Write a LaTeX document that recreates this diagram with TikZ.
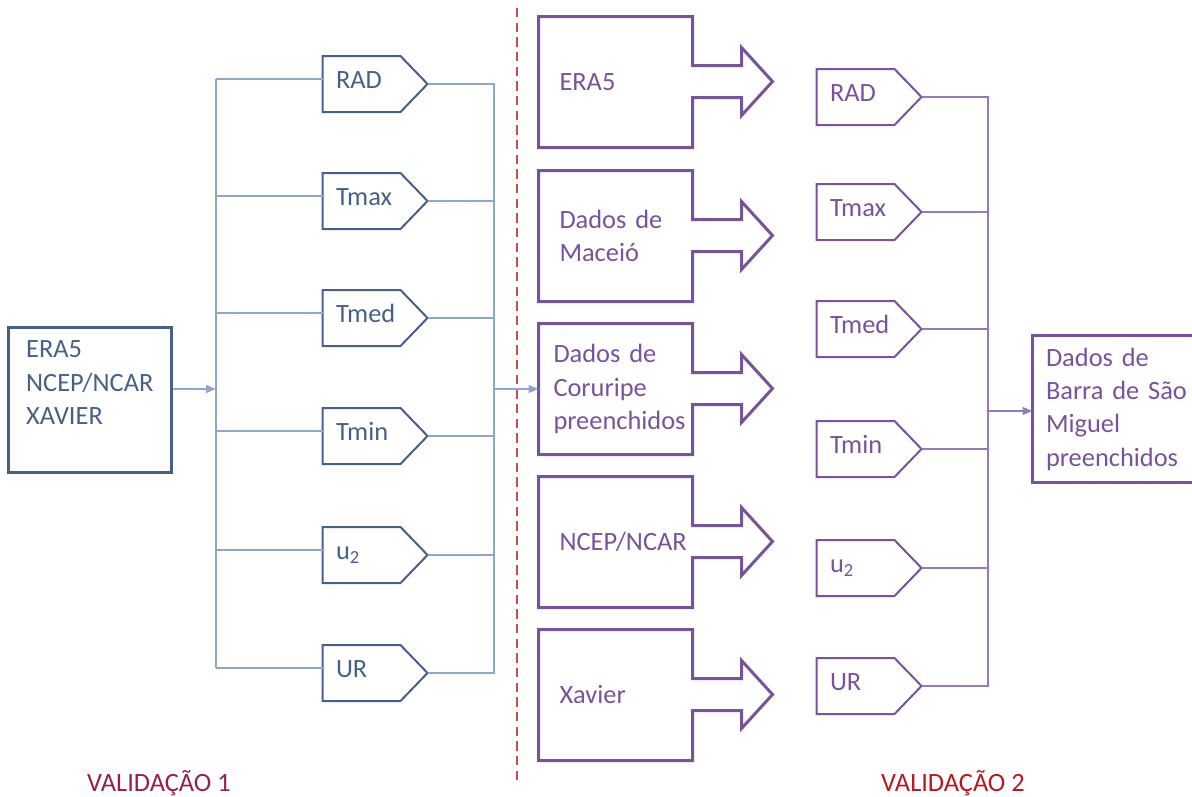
\documentclass[tikz,border=0pt]{standalone}
\usepackage{fontspec}
\setmainfont{Carlito}
\usetikzlibrary{arrows.meta,calc}

\definecolor{slate}{RGB}{70,96,136}
\definecolor{slateline}{RGB}{142,166,204}
\definecolor{plum}{RGB}{120,82,155}
\definecolor{plumline}{RGB}{152,122,184}
\definecolor{splitred}{RGB}{192,80,77}
\definecolor{valone}{RGB}{152,32,72}
\definecolor{valtwo}{RGB}{184,24,32}

\tikzset{every picture/.style={line width=0.75pt}}
\tikzset{
	srcbox/.style={draw=slate, line width=2.25pt, minimum width=122.25pt, minimum height=108.75pt, text width=95pt, align=left, text=slate},
	varbox/.style={minimum width=78pt, minimum height=41.25pt, text width=58.5pt, align=left, text height=12pt, text depth=6pt},
	blockarrow/.style={minimum width=114.75pt, minimum height=97.5pt, text width=84pt, align=left, text=plum},
	dstbox/.style={minimum width=136.5pt, minimum height=109.5pt, text width=117pt, align=left, text=plum},
	bluewire/.style={draw=slateline, line width=1pt},
	purplewire/.style={draw=plumline, line width=1pt},
	feed/.style={-{Triangle[length=7.5pt,width=6pt]}}
}

\begin{document}
\begin{tikzpicture}[x=0.75pt,y=0.75pt,yscale=-1,xscale=1,every node/.style={font=\fontsize{19.8}{25}\selectfont}]
	\useasboundingbox (0,0) rectangle (1192,796);
	\clip (0,0) rectangle (1192,796);

	%Shape: Rectangle [id:src] 
	\node[srcbox] (src) at (89.5,399.5) {ERA5\\NCEP/NCAR\\XAVIER\\~};

	%Shape: Pentagons, validation 1
	\node[varbox, text=slate] (lrad) at (375,84) {RAD};
	\node[varbox, text=slate] (ltmax) at (375,201) {Tmax};
	\node[varbox, text=slate] (ltmed) at (375,318) {Tmed};
	\node[varbox, text=slate] (ltmin) at (375,436) {Tmin};
	\node[varbox, text=slate] (lu) at (375,555) {u\textsubscript{2}};
	\node[varbox, text=slate] (lur) at (375,673) {UR};
	\draw[slate, line width=1.5pt] (lrad.north west) -- ([xshift=-20.25pt]lrad.north east) -- (lrad.east) -- ([xshift=-20.25pt]lrad.south east) -- (lrad.south west) -- cycle ;
	\draw[slate, line width=1.5pt] (ltmax.north west) -- ([xshift=-20.25pt]ltmax.north east) -- (ltmax.east) -- ([xshift=-20.25pt]ltmax.south east) -- (ltmax.south west) -- cycle ;
	\draw[slate, line width=1.5pt] (ltmed.north west) -- ([xshift=-20.25pt]ltmed.north east) -- (ltmed.east) -- ([xshift=-20.25pt]ltmed.south east) -- (ltmed.south west) -- cycle ;
	\draw[slate, line width=1.5pt] (ltmin.north west) -- ([xshift=-20.25pt]ltmin.north east) -- (ltmin.east) -- ([xshift=-20.25pt]ltmin.south east) -- (ltmin.south west) -- cycle ;
	\draw[slate, line width=1.5pt] (lu.north west) -- ([xshift=-20.25pt]lu.north east) -- (lu.east) -- ([xshift=-20.25pt]lu.south east) -- (lu.south west) -- cycle ;
	\draw[slate, line width=1.5pt] (lur.north west) -- ([xshift=-20.25pt]lur.north east) -- (lur.east) -- ([xshift=-20.25pt]lur.south east) -- (lur.south west) -- cycle ;

	%Straight Lines: split and join, validation 1
	\coordinate (lsplit) at (216,389);
	\coordinate (ljoin) at (494,389);
	\draw[bluewire, feed] (src.east |- lsplit) -- (lsplit);
	\draw[bluewire] ($(lsplit |- lrad.west)+(0,-5)$) -- ($(lsplit |- lur.west)+(0,-5)$);
	\draw[bluewire] ($(lsplit |- lrad.west)+(0,-5)$) -- ($(lrad.west)+(0,-5)$);
	\draw[bluewire] ($(lsplit |- ltmax.west)+(0,-5)$) -- ($(ltmax.west)+(0,-5)$);
	\draw[bluewire] ($(lsplit |- ltmed.west)+(0,-5)$) -- ($(ltmed.west)+(0,-5)$);
	\draw[bluewire] ($(lsplit |- ltmin.west)+(0,-5)$) -- ($(ltmin.west)+(0,-5)$);
	\draw[bluewire] ($(lsplit |- lu.west)+(0,-5)$) -- ($(lu.west)+(0,-5)$);
	\draw[bluewire] ($(lsplit |- lur.west)+(0,-5)$) -- ($(lur.west)+(0,-5)$);
	\draw[bluewire] (lrad.east) -- (ljoin |- lrad.east) -- (ljoin |- lur.east) -- (lur.east);
	\draw[bluewire] (ltmax.east) -- (ljoin |- ltmax.east);
	\draw[bluewire] (ltmed.east) -- (ljoin |- ltmed.east);
	\draw[bluewire] (ltmin.east) -- (ljoin |- ltmin.east);
	\draw[bluewire] (lu.east) -- (ljoin |- lu.east);

	%Straight Lines: dashed separator
	\draw[splitred, line width=1pt, dash pattern=on 7pt off 4pt] (517,8) -- (517,782);

	%Shape: Block arrows, stations
	\node[blockarrow] (era) at (615.5,82) {ERA5};
	\node[blockarrow] (maceio) at (615.5,236) {Dados de\\Maceió};
	\node[blockarrow, text width=93pt] (coruripe) at (615.5,389) {Dados de\\Coruripe\\preenchidos};
	\node[blockarrow] (ncep) at (615.5,542) {NCEP/NCAR};
	\node[blockarrow] (xavier) at (615.5,695) {Xavier};
	\draw[plum, line width=2.25pt] (era.north west) -- (era.north east) -- ++(0,49) -- ++(49,0) -- ++(0,-18) -- ++(31,34) -- ++(-31,34) -- ++(0,-18) -- ++(-49,0) -- (era.south east) -- (era.south west) -- cycle ;
	\draw[plum, line width=2.25pt] (maceio.north west) -- (maceio.north east) -- ++(0,49) -- ++(49,0) -- ++(0,-18) -- ++(31,34) -- ++(-31,34) -- ++(0,-18) -- ++(-49,0) -- (maceio.south east) -- (maceio.south west) -- cycle ;
	\draw[plum, line width=2.25pt] (coruripe.north west) -- (coruripe.north east) -- ++(0,49) -- ++(49,0) -- ++(0,-18) -- ++(31,34) -- ++(-31,34) -- ++(0,-18) -- ++(-49,0) -- (coruripe.south east) -- (coruripe.south west) -- cycle ;
	\draw[plum, line width=2.25pt] (ncep.north west) -- (ncep.north east) -- ++(0,49) -- ++(49,0) -- ++(0,-18) -- ++(31,34) -- ++(-31,34) -- ++(0,-18) -- ++(-49,0) -- (ncep.south east) -- (ncep.south west) -- cycle ;
	\draw[plum, line width=2.25pt] (xavier.north west) -- (xavier.north east) -- ++(0,49) -- ++(49,0) -- ++(0,-18) -- ++(31,34) -- ++(-31,34) -- ++(0,-18) -- ++(-49,0) -- (xavier.south east) -- (xavier.south west) -- cycle ;
	\draw[bluewire, feed] (ljoin) -- (coruripe.west);

	%Shape: Pentagons, validation 2
	\node[varbox, text=plum] (rrad) at (869,97) {RAD};
	\node[varbox, text=plum] (rtmax) at (869,212) {Tmax};
	\node[varbox, text=plum] (rtmed) at (869,329) {Tmed};
	\node[varbox, text=plum] (rtmin) at (869,449) {Tmin};
	\node[varbox, text=plum] (ru) at (869,568) {u\textsubscript{2}};
	\node[varbox, text=plum] (rur) at (869,686) {UR};
	\draw[plum, line width=1.5pt] (rrad.north west) -- ([xshift=-20.25pt]rrad.north east) -- (rrad.east) -- ([xshift=-20.25pt]rrad.south east) -- (rrad.south west) -- cycle ;
	\draw[plum, line width=1.5pt] (rtmax.north west) -- ([xshift=-20.25pt]rtmax.north east) -- (rtmax.east) -- ([xshift=-20.25pt]rtmax.south east) -- (rtmax.south west) -- cycle ;
	\draw[plum, line width=1.5pt] (rtmed.north west) -- ([xshift=-20.25pt]rtmed.north east) -- (rtmed.east) -- ([xshift=-20.25pt]rtmed.south east) -- (rtmed.south west) -- cycle ;
	\draw[plum, line width=1.5pt] (rtmin.north west) -- ([xshift=-20.25pt]rtmin.north east) -- (rtmin.east) -- ([xshift=-20.25pt]rtmin.south east) -- (rtmin.south west) -- cycle ;
	\draw[plum, line width=1.5pt] (ru.north west) -- ([xshift=-20.25pt]ru.north east) -- (ru.east) -- ([xshift=-20.25pt]ru.south east) -- (ru.south west) -- cycle ;
	\draw[plum, line width=1.5pt] (rur.north west) -- ([xshift=-20.25pt]rur.north east) -- (rur.east) -- ([xshift=-20.25pt]rur.south east) -- (rur.south west) -- cycle ;

	%Shape: Rectangle [id:dst], runs off the right edge
	\node[dstbox] (dst) at (1124,409) {Dados de\\Barra de São\\Miguel\\preenchidos};
	\draw[plum, line width=2.25pt] (dst.north east) -- (dst.north west) -- (dst.south west) -- (dst.south east) ;

	%Straight Lines: join, validation 2
	\coordinate (rjoin) at (988,411);
	\draw[purplewire] (rrad.east) -- (rjoin |- rrad.east) -- (rjoin |- rur.east) -- (rur.east);
	\draw[purplewire] (rtmax.east) -- (rjoin |- rtmax.east);
	\draw[purplewire] (rtmed.east) -- (rjoin |- rtmed.east);
	\draw[purplewire] (rtmin.east) -- (rjoin |- rtmin.east);
	\draw[purplewire] (ru.east) -- (rjoin |- ru.east);
	\draw[purplewire, feed] (rjoin) -- (dst.west |- rjoin);

	% Text Node
	\node[text=valone] (val1) at (159,783) {VALIDAÇÃO 1};
	% Text Node
	\node[text=valtwo] (val2) at (953,783) {VALIDAÇÃO 2};

\end{tikzpicture}
\end{document}
